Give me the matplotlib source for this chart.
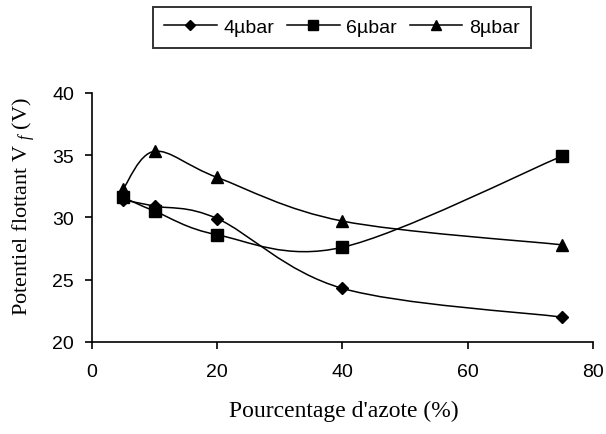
import matplotlib
matplotlib.use("Agg")
import matplotlib.pyplot as plt
from matplotlib.path import Path
from matplotlib.patches import PathPatch
from matplotlib.lines import Line2D

# percentage of nitrogen
azote = [5, 10, 20, 40, 75]

# floating potential (V) for each pressure
v_4ubar = [31.4, 30.9, 29.9, 24.3, 22.0]
v_6ubar = [31.6, 30.5, 28.6, 27.6, 34.9]
v_8ubar = [32.3, 35.3, 33.2, 29.7, 27.8]

labels = ["4\u00b5bar", "6\u00b5bar", "8\u00b5bar"]
markers = ["D", "s", "^"]
sizes = [6.3, 8.3, 8.8]

plt.rcParams["mathtext.fontset"] = "custom"
plt.rcParams["mathtext.rm"] = "Liberation Serif"
plt.rcParams["mathtext.it"] = "Liberation Serif:italic"


def smooth_path(xs, ys):
    # excel-like smoothed line: cubic bezier segments
    pts = list(zip(xs, ys))
    n = len(pts)
    verts = [pts[0]]
    codes = [Path.MOVETO]
    for i in range(n - 1):
        p0 = pts[i - 1] if i > 0 else pts[i]
        p1 = pts[i]
        p2 = pts[i + 1]
        p3 = pts[i + 2] if i + 2 < n else pts[i + 1]
        c1 = (p1[0] + (p2[0] - p0[0]) / 6, p1[1] + (p2[1] - p0[1]) / 6)
        c2 = (p2[0] - (p3[0] - p1[0]) / 6, p2[1] - (p3[1] - p1[1]) / 6)
        verts += [c1, c2, p2]
        codes += [Path.CURVE4] * 3
    return Path(verts, codes)


fig = plt.figure(figsize=(6.06, 4.35), dpi=100)
ax = fig.add_axes([0.1518, 0.2115, 0.8267, 0.5731])

handles = []
for ys, lab, m, s in zip([v_4ubar, v_6ubar, v_8ubar], labels, markers, sizes):
    ax.add_patch(PathPatch(smooth_path(azote, ys), fill=False, color="black", lw=1.1))
    ax.plot(azote, ys, linestyle="none", marker=m, ms=s, color="black")
    handles.append(Line2D([], [], color="black", lw=1.1, marker=m, ms=s * 0.8, label=lab))

ax.set_xlim(0, 80)
ax.set_ylim(20, 40)
ax.set_xticks([0, 20, 40, 60, 80])
ax.set_yticks([20, 25, 30, 35, 40])
ax.spines["top"].set_visible(False)
ax.spines["right"].set_visible(False)
ax.spines["left"].set_linewidth(1.2)
ax.spines["bottom"].set_linewidth(1.2)
ax.tick_params(direction="out", length=5, width=1.2, labelsize=14)
ax.tick_params(axis="x", pad=10)
ax.tick_params(axis="y", pad=8)
for t in ax.get_xticklabels() + ax.get_yticklabels():
    t.set_fontfamily("Liberation Sans")

ax.set_xlabel("Pourcentage d'azote (%)", fontfamily="Liberation Serif", fontsize=17)
ax.set_ylabel("Potentiel flottant V $_f$ (V)", fontfamily="Liberation Serif", fontsize=16)
ax.xaxis.set_label_coords(0.502, -0.233)
ax.yaxis.set_label_coords(-0.11, 0.545)

leg = fig.legend(handles=handles, loc="center", bbox_to_anchor=(0.5644, 0.9345), ncol=3,
                 frameon=True, fancybox=False, edgecolor="black", handlelength=2.7,
                 columnspacing=0.65, handletextpad=0.35, borderpad=0.6,
                 prop={"family": "Liberation Sans", "size": 14})
leg.get_frame().set_linewidth(1.4)

fig.savefig("out.png", dpi=100)
